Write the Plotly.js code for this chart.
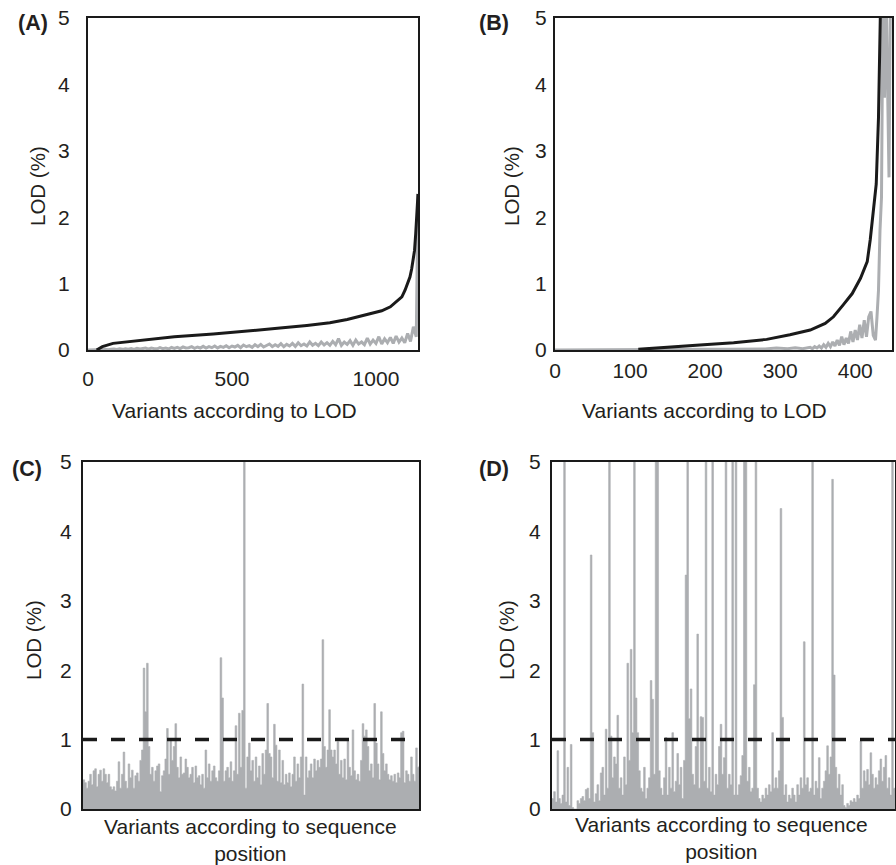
<!DOCTYPE html>
<html>
<head>
<meta charset="utf-8">
<script src="https://cdn.plot.ly/plotly-3.0.1.min.js"></script>
<style>
  html, body { margin: 0; padding: 0; background: #ffffff; }
  #chart { width: 896px; height: 865px; }
</style>
</head>
<body>
<div id="chart"></div>
<script>
// ---------------- DATA ----------------
// Panel A: variants sorted by LOD (about 1146 variants)
const aBlackX = [30, 50, 87, 150, 204, 300, 435, 550, 667, 760, 840, 900, 955, 1000, 1020, 1050, 1072, 1090, 1101, 1110, 1118, 1124, 1129, 1134, 1138, 1142, 1146];
const aBlackY = [0, 0.05, 0.1, 0.13, 0.16, 0.2, 0.24, 0.28, 0.33, 0.37, 0.41, 0.46, 0.52, 0.56, 0.59, 0.65, 0.73, 0.8, 0.9, 1.0, 1.1, 1.22, 1.36, 1.5, 1.75, 2.05, 2.35];
const aGrayX = [
  0, 10, 20, 30, 40, 50, 60, 70, 80, 90,
  100, 110, 120, 130, 140, 150, 160, 170, 180, 190,
  200, 210, 220, 230, 240, 250, 260, 270, 280, 290,
  300, 310, 320, 330, 340, 350, 360, 370, 380, 390,
  400, 410, 420, 430, 440, 450, 460, 470, 480, 490,
  500, 510, 520, 530, 540, 550, 560, 570, 580, 590,
  600, 610, 620, 630, 640, 650, 660, 670, 680, 690,
  700, 710, 720, 730, 740, 750, 760, 770, 780, 790,
  800, 810, 820, 830, 840, 850, 860, 870, 880, 890,
  900, 910, 920, 930, 940, 950, 960, 970, 980, 990,
  1000, 1010, 1020, 1030, 1040, 1050, 1060, 1070, 1080, 1090,
  1100, 1110, 1120, 1130, 1140, 1145, 1146];
const aGrayY = [
  0, 0, 0.005, 0.01, 0, 0.008, 0.012, 0.004, 0.01, 0.015,
  0.008, 0.018, 0.01, 0.02, 0.012, 0.022, 0.01, 0.025, 0.015, 0.02,
  0.028, 0.012, 0.03, 0.02, 0.018, 0.035, 0.02, 0.03, 0.015, 0.038,
  0.025, 0.04, 0.02, 0.045, 0.03, 0.035, 0.05, 0.025, 0.045, 0.03,
  0.055, 0.03, 0.05, 0.035, 0.06, 0.03, 0.055, 0.04, 0.065, 0.035,
  0.06, 0.045, 0.07, 0.035, 0.075, 0.05, 0.065, 0.04, 0.08, 0.05,
  0.085, 0.045, 0.07, 0.09, 0.05, 0.08, 0.055, 0.095, 0.05, 0.085,
  0.06, 0.1, 0.055, 0.11, 0.065, 0.09, 0.06, 0.12, 0.07, 0.1,
  0.065, 0.12, 0.075, 0.11, 0.07, 0.13, 0.08, 0.17, 0.07, 0.12,
  0.085, 0.14, 0.07, 0.15, 0.09, 0.12, 0.08, 0.18, 0.09, 0.15,
  0.1, 0.2, 0.09, 0.17, 0.11, 0.19, 0.1, 0.21, 0.12, 0.18,
  0.11, 0.25, 0.13, 0.35, 0.2, 2.35, 2.35];

// Panel B: variants sorted by LOD (about 449 variants)
const bBlackX = [111, 149, 193, 238, 282, 313, 340, 360, 371, 384, 396, 407, 416, 420, 424, 428, 431, 433, 435];
const bBlackY = [0.01, 0.035, 0.075, 0.11, 0.16, 0.23, 0.3, 0.4, 0.5, 0.68, 0.85, 1.08, 1.33, 1.66, 2.06, 2.5, 3.5, 5, 6];
const bGrayX = [0, 100, 150, 200, 230, 250, 265, 280, 295, 310, 320, 330,
  340, 343, 346, 349, 352, 355, 358, 361, 364, 367, 370, 373, 376, 379, 382, 385, 388, 391,
  394, 397, 400, 403, 406, 409, 412, 415, 418, 421, 424, 427, 429, 431, 433, 435, 437, 439,
  441, 443, 445, 447, 449];
const bGrayY = [0, 0, 0.005, 0.01, 0.012, 0.015, 0.02, 0.015, 0.03, 0.02, 0.035, 0.02,
  0.04, 0.02, 0.05, 0.03, 0.06, 0.03, 0.08, 0.04, 0.1, 0.05, 0.12, 0.06, 0.15, 0.07, 0.2, 0.08, 0.18, 0.1,
  0.28, 0.12, 0.3, 0.15, 0.38, 0.18, 0.45, 0.2, 0.5, 0.58, 0.22, 0.15, 0.5, 0.9, 1.8, 2.3, 5.5, 3.8,
  5.5, 4.2, 2.6, 5.5, 5.5];

// Panel C: LOD along sequence position
const cValues = [
  0.42,0.38,0.3,0.4,0.5,0.35,0.55,0.58,0.32,0.5,
  0.56,0.4,0.58,0.5,0.38,0.5,0.32,0.28,0.32,0.26,
  0.4,0.68,0.3,0.5,0.82,0.4,0.3,0.65,0.45,0.56,
  0.3,0.48,0.52,0.4,0.7,0.85,2.03,1.4,2.1,0.9,
  0.5,0.6,0.4,0.55,0.62,0.65,0.25,0.48,0.55,0.72,
  1.16,0.5,1.0,0.7,0.9,1.23,0.6,0.45,0.75,0.5,
  0.52,0.72,0.6,0.45,0.5,0.6,0.38,0.62,0.45,0.48,
  0.35,0.5,0.3,0.85,0.45,0.65,0.4,0.55,0.62,0.45,
  0.4,0.55,2.18,1.6,0.4,0.55,0.6,0.45,0.68,0.4,
  0.55,1.2,0.5,1.38,0.6,1.42,5.5,0.3,0.75,0.95,
  0.55,0.7,0.4,0.75,0.45,0.62,0.35,0.8,0.5,0.85,
  1.52,0.8,0.75,0.45,1.22,0.92,0.4,0.85,0.38,0.7,
  0.35,0.5,0.38,0.52,0.32,0.5,0.75,0.4,0.65,0.45,
  0.75,1.8,0.2,0.75,0.45,0.55,0.65,0.45,0.72,0.55,
  0.7,0.6,0.72,2.44,0.9,0.6,0.85,1.43,0.85,0.75,
  0.85,0.65,0.97,0.5,0.7,0.45,0.72,0.42,0.99,0.6,
  0.48,1.14,0.55,0.42,0.5,0.4,0.7,1.23,1.05,1.14,
  0.9,0.55,0.65,0.45,1.52,0.95,0.65,0.42,1.4,0.8,
  0.55,0.65,0.5,0.42,0.48,0.4,0.5,0.38,0.52,0.45,
  1.1,1.12,0.38,0.55,0.5,0.4,0.75,0.5,0.4,0.88,
  0.6,0.62
];

// Panel D: LOD along sequence position
const dValues = [
  0.15,0.25,0.1,0.84,0.15,0.08,0.2,6,0.1,0.6,
  0.05,0.93,0.02,0,0,0.12,0.08,0.15,0.18,0.12,
  0.28,0.3,0.15,3.66,1.1,0.1,0.22,0.35,0.12,0.52,
  0.6,0.2,1.15,0.3,6,1.05,0.45,0.75,0.65,1.35,
  0.3,0.45,0.2,0.75,0.35,2.1,0.7,2.3,1.1,6,
  1.6,1.1,0.55,0.3,0.25,0.6,0.15,0.3,0.45,1.85,
  1.58,0.5,6,6,0.55,0.3,0.2,0.45,1.03,0.2,
  0.6,0.3,1.1,0.25,0.4,0.8,0.35,0.6,0.15,0.7,
  3.37,6,1.3,1.73,0.5,0.35,0.9,2.52,0.3,1.33,
  1.32,0.4,6,0.3,0.6,0.25,6,0.2,0.5,0.35,
  0.9,1.22,0.5,0.74,6,0.3,0.5,0.35,6,0.2,
  6,0.2,0.35,0.48,0.77,6,6,0.4,0.6,0.25,
  0.3,1.79,6,0.3,0.15,0.1,0.2,0.15,0.3,0.2,
  0.35,0.25,1.1,0.3,0.45,0.3,0.55,4.33,1.32,0.2,
  0.35,0.1,0.2,0.15,0.3,0.2,0.1,0.35,0.2,0.45,
  0.3,2.41,0.35,0.45,0.25,0.3,6,0.2,0.4,0.3,
  0.74,0.15,0.3,0.4,0.55,0.91,0.5,0.75,4.75,1.93,
  0.6,0.3,0.5,0.2,0.35,0.05,0.02,0.08,0.05,0.12,
  0.1,0.15,0.1,0.2,0.15,0.98,0.3,0.55,0.4,0.57,
  0.35,0.81,0.5,0.3,0.45,0.35,0.55,0.72,0.4,0.6,
  0.77,0.3,0.45,0.2,6,0.3,0.25
];

const threshold = 1;
const yTicks = [0, 1, 2, 3, 4, 5];
const aXTicks = [0, 500, 1000];
const bXTicks = [0, 100, 200, 300, 400];
const panelLabels = ['(A)', '(B)', '(C)', '(D)'];
const yTitle = 'LOD (%)';
const xTitleSorted = 'Variants according to LOD';
const xTitleSeq = 'Variants according to sequence<br>position';

// ---------------- STYLE ----------------
const W = 896, H = 865;
const FONT = '"Liberation Sans", Arial, Helvetica, sans-serif';
const FS = 21;
const TXT = '#231f20';
const GRAY = '#acaeb1';
const BLACK = '#1a1a1a';
const px = v => v / W;
const py = v => 1 - v / H;

const idx = arr => arr.map((_, i) => i);

const traces = [
  {x: aGrayX, y: aGrayY, xaxis: 'x', yaxis: 'y', type: 'scatter', mode: 'lines',
   line: {color: GRAY, width: 3}, hoverinfo: 'skip'},
  {x: aBlackX, y: aBlackY, xaxis: 'x', yaxis: 'y', type: 'scatter', mode: 'lines',
   line: {color: BLACK, width: 3}, hoverinfo: 'skip'},
  {x: bGrayX, y: bGrayY, xaxis: 'x2', yaxis: 'y2', type: 'scatter', mode: 'lines',
   line: {color: GRAY, width: 3}, hoverinfo: 'skip'},
  {x: bBlackX, y: bBlackY, xaxis: 'x2', yaxis: 'y2', type: 'scatter', mode: 'lines',
   line: {color: BLACK, width: 3}, hoverinfo: 'skip'},
  {x: idx(cValues), y: cValues, xaxis: 'x3', yaxis: 'y3', type: 'scatter', mode: 'lines',
   fill: 'tozeroy', fillcolor: GRAY, line: {color: GRAY, width: 0.6, shape: 'hv'}, hoverinfo: 'skip'},
  {x: idx(dValues), y: dValues, xaxis: 'x4', yaxis: 'y4', type: 'scatter', mode: 'lines',
   fill: 'tozeroy', fillcolor: GRAY, line: {color: GRAY, width: 0.6, shape: 'hv'}, hoverinfo: 'skip'}
];

function xAxis(domain, range, anchor, ticks, standoff) {
  return {
    domain: domain, range: range, anchor: anchor, autorange: false,
    showline: true, mirror: true, linecolor: BLACK, linewidth: 2,
    showgrid: false, zeroline: false, ticks: '', layer: 'below traces',
    tickvals: ticks || [], showticklabels: !!ticks,
    ticklabelstandoff: standoff || 0,
    tickfont: {family: FONT, size: FS, color: TXT}
  };
}
function yAxis(domain, anchor, standoff) {
  return {
    domain: domain, range: [0, 5], anchor: anchor, autorange: false,
    showline: true, mirror: true, linecolor: BLACK, linewidth: 2,
    showgrid: false, zeroline: false, ticks: '', layer: 'below traces',
    tickvals: yTicks, ticklabelstandoff: standoff,
    tickfont: {family: FONT, size: FS, color: TXT}
  };
}

const topRow = [py(350), py(18)];
const botRow = [py(809), py(462)];

const layout = {
  width: W, height: H,
  margin: {l: 0, r: 0, t: 0, b: 0},
  paper_bgcolor: '#ffffff', plot_bgcolor: '#ffffff',
  showlegend: false,
  font: {family: FONT, size: FS, color: TXT},
  xaxis:  xAxis([px(88), px(418)], [0, 1146], 'y', aXTicks, 9),
  yaxis:  yAxis(topRow, 'x', 12),
  xaxis2: xAxis([px(555), px(892)], [0, 449], 'y2', bXTicks, 1),
  yaxis2: yAxis(topRow, 'x2', 2),
  xaxis3: xAxis([px(83), px(419)], [0, cValues.length - 1], 'y3', null, 0),
  yaxis3: yAxis(botRow, 'x3', 5),
  xaxis4: xAxis([px(552), px(895)], [0, dValues.length - 1], 'y4', null, 0),
  yaxis4: yAxis(botRow, 'x4', 5),
  shapes: [
    {type: 'line', xref: 'x3 domain', yref: 'y3', x0: 0, x1: 1, y0: threshold, y1: threshold,
     line: {color: BLACK, width: 3.5, dash: '14px,14px'}, layer: 'above'},
    {type: 'line', xref: 'x4 domain', yref: 'y4', x0: 0, x1: 1, y0: threshold, y1: threshold,
     line: {color: BLACK, width: 3.5, dash: '14px,14px'}, layer: 'above'}
  ],
  annotations: []
};

function ann(text, x, y, opts) {
  return Object.assign({
    text: text, xref: 'paper', yref: 'paper', x: px(x), y: py(y),
    xanchor: 'center', yanchor: 'middle', showarrow: false,
    font: {family: FONT, size: FS, color: TXT}
  }, opts || {});
}

const labelPos = [[33, 23], [494, 23], [27, 469], [494, 469]];
panelLabels.forEach((t, i) => {
  layout.annotations.push(ann('<b>' + t + '</b>', labelPos[i][0], labelPos[i][1],
    {font: {family: FONT, size: 21.5, color: TXT}}));
});
[[37, 186], [511, 186], [33, 640], [506, 640]].forEach(p => {
  layout.annotations.push(ann(yTitle, p[0], p[1], {textangle: -90, font: {family: FONT, size: 20.5, color: TXT}}));
});
layout.annotations.push(ann(xTitleSorted, 234, 410));
layout.annotations.push(ann(xTitleSorted, 704, 410));
layout.annotations.push(ann(xTitleSeq, 250, 840));
layout.annotations.push(ann(xTitleSeq, 721, 838));

Plotly.newPlot('chart', traces, layout, {displayModeBar: false, staticPlot: true});
</script>
</body>
</html>
